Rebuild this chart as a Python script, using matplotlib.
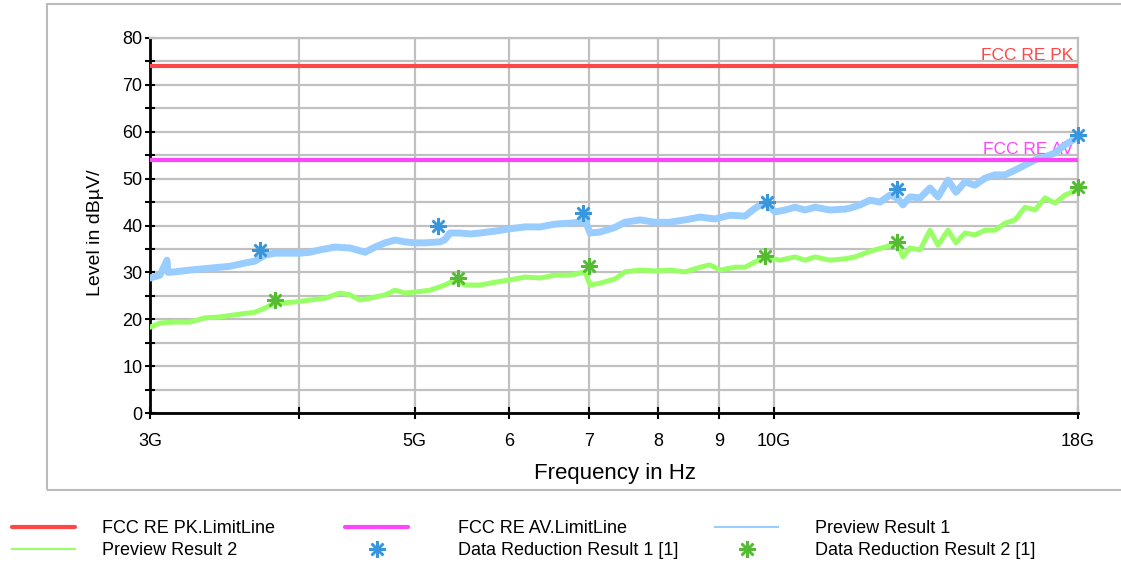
import numpy as np
import matplotlib
matplotlib.use("Agg")
import matplotlib.pyplot as plt
from matplotlib.lines import Line2D
from matplotlib.patches import Rectangle
from matplotlib.ticker import FixedLocator, FixedFormatter, NullLocator

plt.rcParams['font.family'] = ['Liberation Sans', 'DejaVu Sans']

# frequencies in GHz, levels in dBuV
prev1_f = [3.000, 3.058, 3.100, 3.106, 3.148, 3.241, 3.368, 3.501, 3.604, 3.674,
           3.746, 3.819, 3.931, 4.008, 4.086, 4.166, 4.288, 4.414, 4.544, 4.632,
           4.723, 4.815, 4.908, 5.004, 5.102, 5.252, 5.303, 5.354, 5.458, 5.565,
           5.673, 5.840, 6.012, 6.188, 6.370, 6.557, 6.750, 6.882, 6.948, 7.016,
           7.153, 7.363, 7.506, 7.727, 7.954, 8.188, 8.428, 8.676, 8.931, 9.193,
           9.464, 9.648, 9.836, 10.028, 10.223, 10.423, 10.626, 10.833, 11.151, 11.479,
           11.590, 11.816, 12.047, 12.282, 12.521, 12.692, 12.839, 13.014, 13.268, 13.526,
           13.737, 14.005, 14.223, 14.472, 14.754, 15.042, 15.335, 15.634, 15.939, 16.250,
           16.566, 16.889, 17.219, 17.554, 18.000]
prev1_lvl = [28.8, 29.4, 32.6, 30.0, 30.1, 30.5, 30.9, 31.3, 32.0, 32.4,
             33.7, 34.1, 34.1, 34.1, 34.3, 34.8, 35.4, 35.2, 34.3, 35.4,
             36.3, 36.9, 36.5, 36.3, 36.3, 36.5, 37.0, 38.4, 38.4, 38.2,
             38.4, 38.8, 39.3, 39.7, 39.7, 40.3, 40.5, 40.7, 41.2, 38.4,
             38.6, 39.6, 40.7, 41.2, 40.7, 40.7, 41.2, 41.8, 41.4, 42.2,
             42.0, 43.7, 44.8, 42.9, 43.3, 43.9, 43.3, 43.9, 43.3, 43.5,
             43.7, 44.4, 45.4, 45.0, 46.5, 45.9, 44.4, 46.1, 45.9, 48.0,
             46.1, 49.7, 47.1, 49.3, 48.6, 50.1, 50.8, 50.8, 51.8, 52.9,
             54.0, 54.6, 55.5, 57.2, 58.9]

prev2_f = [3.000, 3.058, 3.148, 3.241, 3.336, 3.434, 3.569, 3.674, 3.746, 3.819,
           3.893, 3.969, 4.086, 4.206, 4.330, 4.414, 4.500, 4.588, 4.723, 4.815,
           4.908, 5.004, 5.151, 5.303, 5.406, 5.511, 5.673, 5.840, 6.012, 6.188,
           6.370, 6.557, 6.750, 6.948, 7.016, 7.153, 7.363, 7.506, 7.727, 7.954,
           8.188, 8.428, 8.676, 8.845, 9.018, 9.283, 9.464, 9.648, 9.836, 10.125,
           10.423, 10.626, 10.833, 11.151, 11.479, 11.703, 11.931, 12.164, 12.401, 12.692,
           12.839, 13.014, 13.268, 13.526, 13.737, 14.005, 14.223, 14.472, 14.754, 15.042,
           15.335, 15.634, 15.939, 16.250, 16.566, 16.889, 17.219, 17.554, 18.000]
prev2_lvl = [18.3, 19.2, 19.4, 19.4, 20.3, 20.5, 21.1, 21.5, 22.4, 23.5,
             23.5, 23.7, 24.1, 24.5, 25.6, 25.2, 24.1, 24.5, 25.2, 26.2,
             25.6, 25.8, 26.2, 27.3, 28.4, 27.3, 27.3, 27.9, 28.4, 29.0,
             28.8, 29.4, 29.4, 30.1, 27.3, 27.7, 28.6, 30.1, 30.5, 30.3,
             30.5, 30.1, 31.1, 31.6, 30.5, 31.1, 31.1, 32.2, 33.3, 32.6,
             33.3, 32.6, 33.3, 32.6, 32.9, 33.3, 34.1, 34.8, 35.4, 36.3,
             33.3, 35.2, 34.8, 39.0, 35.8, 39.0, 36.3, 38.4, 38.0, 39.0,
             39.0, 40.5, 41.2, 43.9, 43.3, 45.9, 44.8, 46.5, 47.6]

dr1_f = [3.71, 5.23, 6.92, 9.87, 12.69, 18.0]
dr1_lvl = [34.8, 39.9, 42.7, 45.0, 47.8, 59.3]
dr2_f = [3.82, 5.44, 7.00, 9.83, 12.69, 18.0]
dr2_lvl = [24.1, 28.8, 31.4, 33.5, 36.5, 48.2]

limit_pk = 74
limit_av = 54

xtick_f = [3, 4, 5, 6, 7, 8, 9, 10, 18]
xtick_lbl = ['3G', '', '5G', '6', '7', '8', '9', '10G', '18G']

RED = '#ff4747'
MAG = '#ff45ff'
BLUE_L = '#99ccff'
GREEN_L = '#99ff66'
BLUE_M = '#3796dc'
GREEN_M = '#55bb33'
GRID = '#c0c0c0'

fig = plt.figure(figsize=(11.21, 5.63), dpi=100)
fig.add_artist(Rectangle((47 / 1121, 1 - 490 / 563), 1.1, 486 / 563,
                         transform=fig.transFigure, fill=False,
                         edgecolor='#bbbbbb', linewidth=1.5))
ax = fig.add_axes([150 / 1121, 1 - 413 / 563, 928 / 1121, 375 / 563])

ax.set_xscale('log')
ax.set_xlim(3e9, 18e9)
ax.set_ylim(0, 80)

ax.plot(np.array(prev1_f) * 1e9, prev1_lvl, color=BLUE_L, lw=5, zorder=3)
ax.plot(np.array(prev2_f) * 1e9, prev2_lvl, color=GREEN_L, lw=3.6, zorder=3)
ax.axhline(limit_pk, color=RED, lw=3, zorder=4)
ax.axhline(limit_av, color=MAG, lw=3, zorder=4)
ax.plot(np.array(dr1_f) * 1e9, dr1_lvl, ls='none', marker=(8, 2, 0), ms=12,
        mew=1.8, color=BLUE_M, zorder=5, clip_on=False)
ax.plot(np.array(dr2_f) * 1e9, dr2_lvl, ls='none', marker=(8, 2, 0), ms=12,
        mew=1.8, color=GREEN_M, zorder=5, clip_on=False)

ax.text(0.995, limit_pk + 0.6, 'FCC RE PK', color=RED, fontsize=12.5,
        ha='right', va='bottom', transform=ax.get_yaxis_transform(), zorder=2)
ax.text(0.995, limit_av + 0.6, 'FCC RE AV', color=MAG, fontsize=12.5,
        ha='right', va='bottom', transform=ax.get_yaxis_transform(), zorder=2)

ax.xaxis.set_major_locator(FixedLocator([f * 1e9 for f in xtick_f]))
ax.xaxis.set_major_formatter(FixedFormatter(xtick_lbl))
ax.xaxis.set_minor_locator(NullLocator())
ax.set_yticks(range(0, 81, 10))
ax.set_yticks(range(5, 80, 10), minor=True)

ax.grid(True, which='both', color=GRID, lw=1.6)
ax.set_axisbelow(True)
ax.tick_params(axis='both', which='both', direction='inout', width=1.5,
               color='black', labelsize=13)
ax.tick_params(axis='x', length=8, pad=10.5)
ax.tick_params(axis='y', which='both', length=7, pad=2)
for s in ['top', 'right']:
    ax.spines[s].set_color(GRID)
    ax.spines[s].set_linewidth(1.6)
for s in ['left', 'bottom']:
    ax.spines[s].set_linewidth(2)

fig.text(615 / 1121, 1 - 473 / 563, 'Frequency in Hz', fontsize=16,
         ha='center', va='center')
fig.text(96 / 1121, 1 - 233 / 563, 'Level in dB\u00b5V/', fontsize=14,
         ha='center', va='center', rotation=90)

# legend, three columns
h_pk = Line2D([], [], color=RED, lw=3, solid_capstyle='round')
h_av = Line2D([], [], color=MAG, lw=3, solid_capstyle='round')
h_p1 = Line2D([], [], color=BLUE_L, lw=1.5)
h_p2 = Line2D([], [], color=GREEN_L, lw=1.5)
h_d1 = Line2D([], [], ls='none', marker=(8, 2, 0), ms=12, mew=1.8, color=BLUE_M)
h_d2 = Line2D([], [], ls='none', marker=(8, 2, 0), ms=12, mew=1.8, color=GREEN_M)

cols = [([h_pk, h_p2], ['FCC RE PK.LimitLine', 'Preview Result 2'], 12, 1.55),
        ([h_av, h_d1], ['FCC RE AV.LimitLine', 'Data Reduction Result 1 [1]'], 345, 2.88),
        ([h_p1, h_d2], ['Preview Result 1', 'Data Reduction Result 2 [1]'], 715, 2.13)]
for hs, lbls, x0, tpad in cols:
    fig.legend(hs, lbls, loc='upper left', bbox_to_anchor=(x0 / 1121, 1 - 520 / 563),
               frameon=False, fontsize=13, borderpad=0, borderaxespad=0,
               handlelength=3.5, handletextpad=tpad / 13 * 12.5, labelspacing=0.3,
               numpoints=1)

fig.savefig('out.png', dpi=100)
